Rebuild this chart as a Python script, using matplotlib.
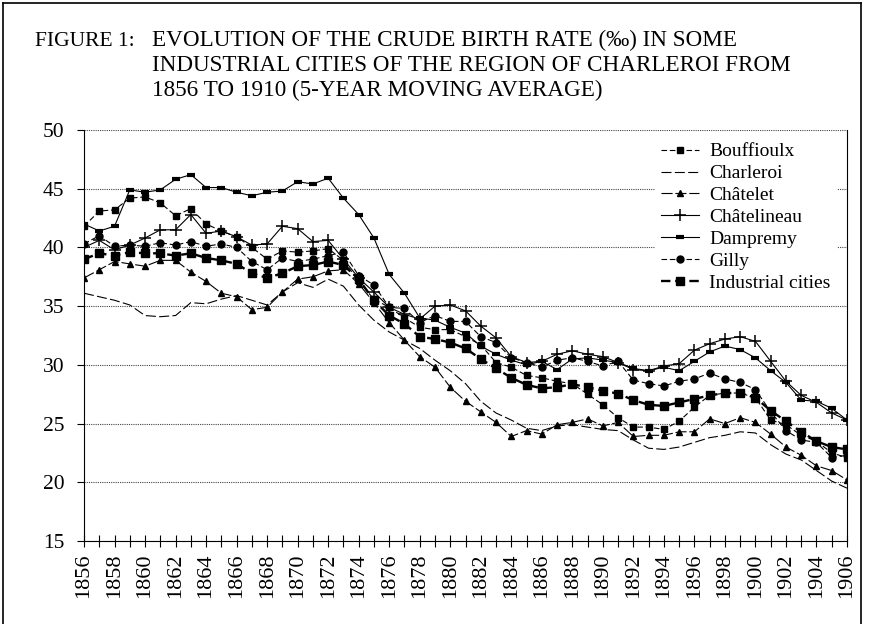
import matplotlib
matplotlib.use("Agg")
import matplotlib.pyplot as plt
from matplotlib.lines import Line2D
import numpy as np

years = list(range(1856, 1907))

bouffioulx = [41.8, 43.1, 43.2, 44.2, 44.3, 43.8, 42.7, 43.3, 42.0, 41.4, 40.9, 40.0, 39.0, 39.7,
              39.6, 39.7, 39.9, 38.9, 37.1, 35.6, 34.9, 34.0, 33.2, 33.0, 33.0, 32.4, 31.7, 30.2, 29.8, 29.1,
              28.9, 28.6, 28.4, 27.5, 26.6, 25.5, 24.7, 24.7, 24.5, 25.2, 26.4, 27.4, 27.6, 27.6, 27.2,
              25.3, 24.9, 24.0, 23.5, 22.5, 22.1]
charleroi = [36.1, 35.8, 35.5, 35.1, 34.2, 34.1, 34.2, 35.3, 35.2, 35.6, 35.9, 35.5, 35.1, 36.2,
             37.0, 36.6, 37.3, 36.7, 35.1, 33.8, 32.8, 32.1, 31.4, 30.4, 29.5, 28.4, 26.9, 25.9, 25.3, 24.6,
             24.4, 24.8, 24.9, 24.7, 24.5, 24.4, 23.6, 22.9, 22.8, 23.0, 23.4, 23.8, 24.0, 24.3, 24.2,
             23.2, 22.4, 21.9, 21.0, 20.1, 19.5]
chatelet = [37.4, 38.1, 38.8, 38.6, 38.4, 38.9, 38.9, 37.9, 37.1, 36.1, 35.8, 34.7, 34.9, 36.2,
            37.3, 37.5, 38.0, 38.1, 36.9, 35.3, 33.6, 32.1, 30.7, 29.8, 28.1, 26.9, 26.0, 25.1, 23.9, 24.4,
            24.1, 24.9, 25.1, 25.4, 24.8, 25.1, 23.9, 24.0, 24.0, 24.3, 24.3, 25.4, 25.0, 25.5, 25.1,
            24.1, 23.0, 22.3, 21.4, 21.0, 20.2]
chatelineau = [40.0, 40.6, 39.8, 40.2, 40.8, 41.5, 41.5, 42.8, 41.2, 41.4, 40.9, 40.2, 40.3, 41.8,
               41.6, 40.5, 40.6, 39.0, 37.4, 36.2, 34.9, 34.3, 33.9, 35.0, 35.1, 34.6, 33.3, 32.3, 30.7, 30.2,
               30.3, 30.9, 31.2, 30.9, 30.7, 30.2, 29.6, 29.5, 29.9, 30.1, 31.25, 31.8, 32.2, 32.4, 32.0,
               30.3, 28.6, 27.4, 26.8, 25.9, 25.3]
dampremy = [42.0, 41.4, 41.8, 44.9, 44.7, 44.9, 45.8, 46.2, 45.1, 45.1, 44.7, 44.4, 44.7, 44.8,
            45.6, 45.4, 45.9, 44.2, 42.8, 40.8, 37.7, 36.1, 34.0, 33.8, 33.2, 32.7, 31.6, 30.9, 30.4, 30.0,
            30.3, 29.6, 30.5, 30.6, 30.4, 30.2, 29.7, 29.5, 29.8, 29.5, 30.3, 31.1, 31.6, 31.3, 30.6,
            29.5, 28.5, 27.0, 26.9, 26.3, 25.3]
gilly = [40.3, 41.0, 40.1, 40.2, 40.1, 40.4, 40.2, 40.5, 40.1, 40.3, 40.0, 38.8, 38.1, 39.1,
         38.8, 39.0, 39.3, 39.6, 37.6, 36.8, 34.9, 34.8, 33.6, 34.2, 33.7, 33.7, 32.4, 31.9, 30.6, 30.2,
         29.8, 30.4, 30.6, 30.3, 29.9, 30.3, 28.7, 28.4, 28.2, 28.6, 28.8, 29.3, 28.8, 28.5, 27.9,
         26.0, 24.4, 23.6, 23.4, 22.1, 22.3]
industrial = [39.0, 39.5, 39.3, 39.6, 39.5, 39.5, 39.3, 39.5, 39.1, 38.9, 38.6, 37.8, 37.4, 37.8,
              38.4, 38.5, 38.8, 38.5, 37.3, 35.5, 34.2, 33.5, 32.4, 32.2, 31.9, 31.4, 30.5, 29.7, 28.9, 28.3,
              28.0, 28.1, 28.35, 28.1, 27.8, 27.55, 27.0, 26.6, 26.5, 26.8, 27.1, 27.4, 27.6, 27.6, 27.2,
              26.1, 25.2, 24.3, 23.5, 23.0, 22.8]

yticks = [15, 20, 25, 30, 35, 40, 45, 50]

plt.rcParams['font.family'] = ['Liberation Serif', 'DejaVu Serif']

fig = plt.figure(figsize=(8.71, 6.24), dpi=100)
ax = fig.add_axes([84/871, 1-541/624, (847-84)/871, (541-130)/624])

k = dict(color='black')
ax.plot(years, bouffioulx, linestyle=(0, (5, 2.5)), lw=0.8, marker='s', ms=5, label='Bouffioulx', **k)
ax.plot(years, charleroi, linestyle=(0, (9, 3)), lw=0.8, label='Charleroi', **k)
ax.plot(years, chatelet, linestyle=(0, (10, 2.5)), lw=0.8, marker='^', ms=4.5, label='Châtelet', **k)
ax.plot(years, chatelineau, linestyle='-', lw=0.8, marker='+', ms=9, mew=1.1, label='Châtelineau', **k)
ax.plot(years, dampremy, linestyle='-', lw=0.8, marker='_', ms=6, mew=3, label='Dampremy', **k)
ax.plot(years, gilly, linestyle=(0, (5, 2.5)), lw=0.8, marker='o', ms=5, label='Gilly', **k)
ax.plot(years, industrial, linestyle=(0, (4, 2)), lw=1.7, marker='s', ms=6, label='Industrial cities', **k)

ax.set_xlim(1856, 1906)
ax.set_ylim(15, 50)
ax.set_yticks(yticks)
ax.set_yticklabels([str(v) for v in yticks], fontsize=15.5)
ax.set_xticks(years)
ax.set_xticklabels([str(y) if (y - 1856) % 2 == 0 else '' for y in years], rotation=90, fontsize=16)
ax.tick_params(axis='x', direction='inout', length=8, width=0.8, pad=5)
ax.tick_params(axis='y', direction='out', length=5, width=0.8, pad=9)
ax.yaxis.grid(True, linestyle=(0, (1, 1)), color='#444444', lw=0.8)
ax.set_axisbelow(True)
ax.spines['top'].set_visible(False)
for s in ['right', 'left', 'bottom']:
    ax.spines[s].set_linewidth(0.8)

leg = ax.legend(loc='upper left', bbox_to_anchor=(0.748, 0.983), frameon=True, fontsize=14,
                handlelength=2.0, labelspacing=0.22, borderpad=0.3, handletextpad=0.5,
                borderaxespad=0)
leg.get_frame().set_edgecolor('white')
leg.get_frame().set_facecolor('white')
leg.get_frame().set_alpha(1)

fs = 16.7
fig.text(35/871, 1-45.7/624, 'FIGURE 1:', fontsize=15.5, va='baseline', ha='left')
fig.text(152/871, 1-45.7/624, 'EVOLUTION OF THE CRUDE BIRTH RATE (‰) IN SOME', fontsize=fs, va='baseline', ha='left')
fig.text(152/871, 1-71/624, 'INDUSTRIAL CITIES OF THE REGION OF CHARLEROI FROM', fontsize=fs, va='baseline', ha='left')
fig.text(152/871, 1-96.5/624, '1856 TO 1910 (5-YEAR MOVING AVERAGE)', fontsize=fs, va='baseline', ha='left')

for xy in [([3/871, 3/871], [0, 1-3/624]), ([3/871, 861/871], [1-3/624, 1-3/624]), ([861/871, 861/871], [1-3/624, 0])]:
    fig.add_artist(Line2D(xy[0], xy[1], color='black', lw=1.2, transform=fig.transFigure))

fig.savefig('out.png', dpi=100)
